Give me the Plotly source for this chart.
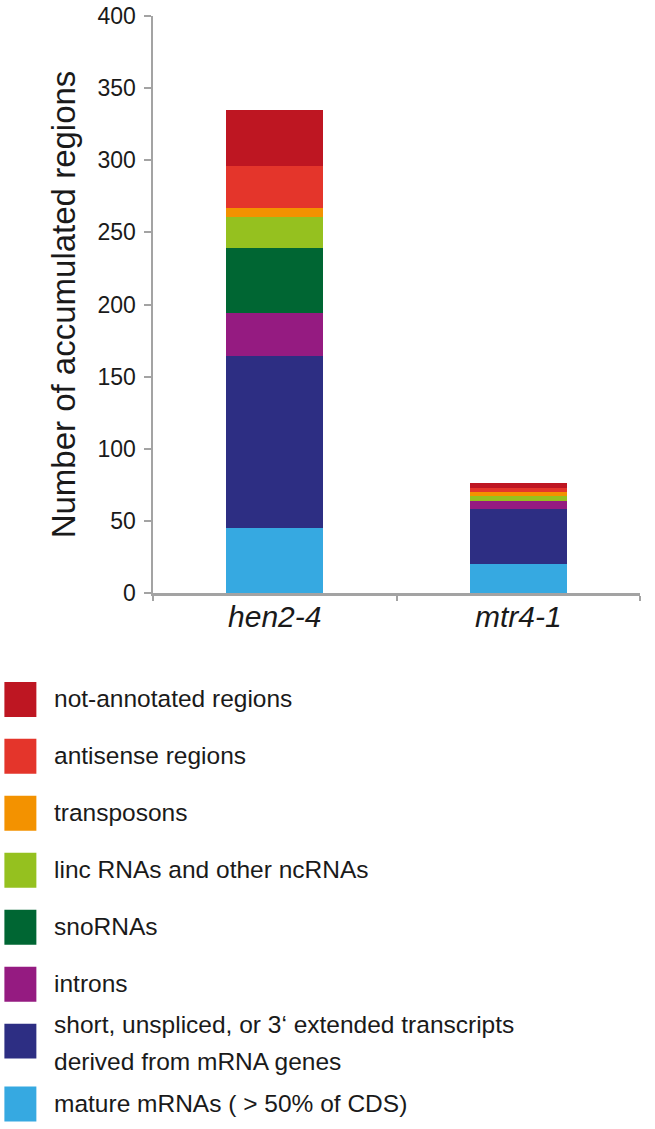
import plotly.graph_objects as go

samples = ["hen2-4", "mtr4-1"]
series_names = [
    "mature mRNAs ( > 50% of CDS)",
    "short, unspliced, or 3‘ extended transcripts<br>derived from mRNA genes",
    "introns",
    "snoRNAs",
    "linc RNAs and other ncRNAs",
    "transposons",
    "antisense regions",
    "not-annotated regions",
]
series_values = [
    [45, 20],
    [119, 38],
    [30, 6],
    [45, 0],
    [22, 3],
    [6, 3],
    [29, 3],
    [39, 3],
]
series_colors = [
    "#36A9E1",
    "#2D2E83",
    "#951B81",
    "#006633",
    "#95C11F",
    "#F39200",
    "#E4352B",
    "#BE1622",
]
y_ticks = [0, 50, 100, 150, 200, 250, 300, 350, 400]

W, H = 655, 1129
L, R, T = 152.7, 15, 16
B = H - 593.5
PW = W - L - R
PH = H - T - B

FONT = "Liberation Sans, Arial, sans-serif"

fig = go.Figure()
for name, vals, col in zip(series_names, series_values, series_colors):
    fig.add_trace(go.Bar(x=samples, y=vals, name=name, marker_color=col,
                         marker_line_width=0, showlegend=False))


def px_x(px):
    return (px - L) / PW


def px_y(py):
    return (H - B - py) / PH


# custom legend (top row = last series)
row_centers = [700, 757, 814, 871, 928, 985, 1042, 1105]
shapes = []
annotations = []
for i, (name, col) in enumerate(zip(series_names[::-1], series_colors[::-1])):
    cy = row_centers[i]
    shapes.append(dict(type="rect", xref="paper", yref="paper",
                       x0=px_x(4), x1=px_x(36), y0=px_y(cy - 17.5), y1=px_y(cy + 17.5),
                       fillcolor=col, line_width=0))
    lines = name.split("<br>")
    if len(lines) == 1:
        ys = [cy - 1]
    else:
        ys = [cy - 17, cy + 20]
    for ln, ty in zip(lines, ys):
        annotations.append(dict(text=ln, xref="paper", yref="paper",
                                x=px_x(52), y=px_y(ty), xanchor="left", yanchor="middle",
                                showarrow=False, font=dict(size=24.5, color="#1a1a1a", family=FONT)))

fig.update_layout(
    width=W, height=H, autosize=False,
    margin=dict(l=L, r=R, t=T, b=B, autoexpand=False),
    barmode="stack", bargap=0.6,
    plot_bgcolor="white", paper_bgcolor="white",
    font=dict(family=FONT, color="#1a1a1a"),
    shapes=shapes, annotations=annotations,
    xaxis=dict(
        showline=True, linecolor="#A3A3A3", linewidth=2.5,
        ticks="outside", tickson="boundaries", ticklen=5, tickwidth=2, tickcolor="#A3A3A3",
        tickfont=dict(size=30, family=FONT, color="#1a1a1a"),
        tickvals=samples, ticktext=[f"<i>{s}</i>" for s in samples],
        ticklabelstandoff=-5,
        showgrid=False, zeroline=False, fixedrange=True,
    ),
    yaxis=dict(
        range=[0, 400], tickvals=y_ticks,
        showline=True, linecolor="#A3A3A3", linewidth=2.5,
        ticks="outside", ticklen=7, tickwidth=2, tickcolor="#A3A3A3",
        tickfont=dict(size=23, family=FONT, color="#1a1a1a"),
        ticklabelstandoff=3, ticklabeloverflow="allow",
        showgrid=False, zeroline=False, fixedrange=True,
        title=dict(text="Number of accumulated regions", standoff=12,
                   font=dict(size=33, family=FONT, color="#1a1a1a")),
    ),
)

fig.write_html("out.html", config={"displayModeBar": False, "staticPlot": True},
               post_script="document.body.style.margin='0';")
